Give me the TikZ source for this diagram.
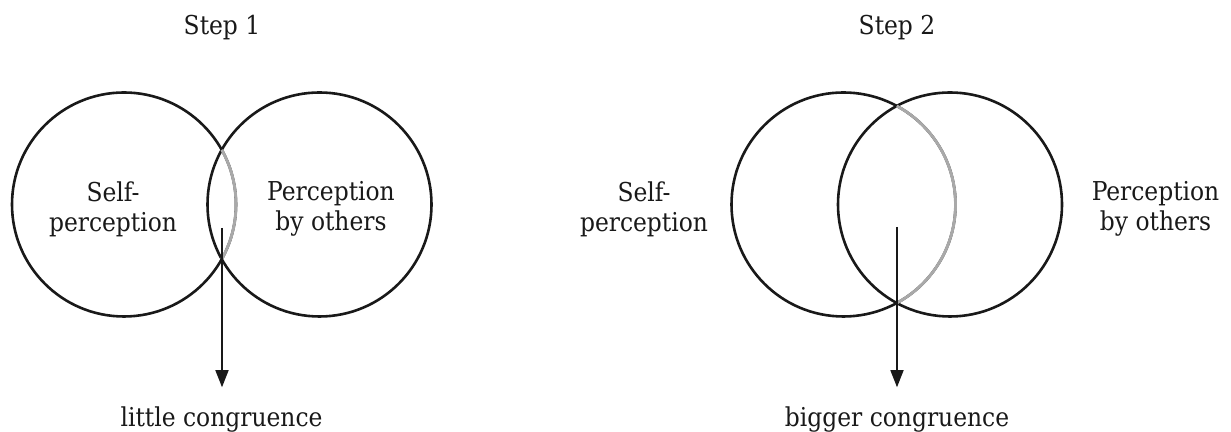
\documentclass[tikz,border=0pt]{standalone}
\usepackage{fontspec}
\setmainfont{DejaVu Serif Condensed}
\usetikzlibrary{arrows.meta}
\definecolor{arcgray}{HTML}{A9A9A9}
\begin{document}
\begin{tikzpicture}[x=0.5pt,y=0.5pt,
  every node/.style={inner sep=0pt, outer sep=0pt, text=black!90,
    font=\fontsize{13}{15}\selectfont},
  ring/.style={circle, draw=black!90, line width=1.3pt, minimum size=112pt},
  grayarc/.style={draw=arcgray, line width=1.45pt},
  label/.style={align=center},
  pointer/.style={draw=black!90, line width=0.75pt,
    -{Triangle[length=8.5pt,width=6.5pt]}, shorten >=10pt}]
\useasboundingbox (0,0) rectangle (1231,432);

% Step 1
\node[anchor=base] (st1) at (222,397) {Step 1};
\node[ring] (L1) at (124,227.5) {};
\node[ring] (R1) at (319.5,227.5) {};
\draw[grayarc] ([shift={(29.2:56pt)}]L1.center) arc[start angle=29.2, end angle=-29.2, radius=56pt];
\node[label] (sp1) at (113,223) {Self-\\perception};
\node[label] (po1) at (331,223) {Perception\\by others};
\node[anchor=base] (lc) at (221.5,5) {little congruence};
\coordinate (a1) at (222,204);
\draw[pointer] (a1) -- (a1 |- lc.north);

% Step 2
\node[anchor=base] (st2) at (897,397) {Step 2};
\node[ring] (L2) at (843.5,227.5) {};
\node[ring] (R2) at (950,227.5) {};
\draw[grayarc] ([shift={(61.6:56pt)}]L2.center) arc[start angle=61.6, end angle=-61.6, radius=56pt];
\node[label] (sp2) at (644,223) {Self-\\perception};
\node[label] (po2) at (1155.5,223) {Perception\\by others};
\node[anchor=base] (bc) at (897,5) {bigger congruence};
\coordinate (a2) at (897,205);
\draw[pointer] (a2) -- (a2 |- bc.north);
\end{tikzpicture}
\end{document}
